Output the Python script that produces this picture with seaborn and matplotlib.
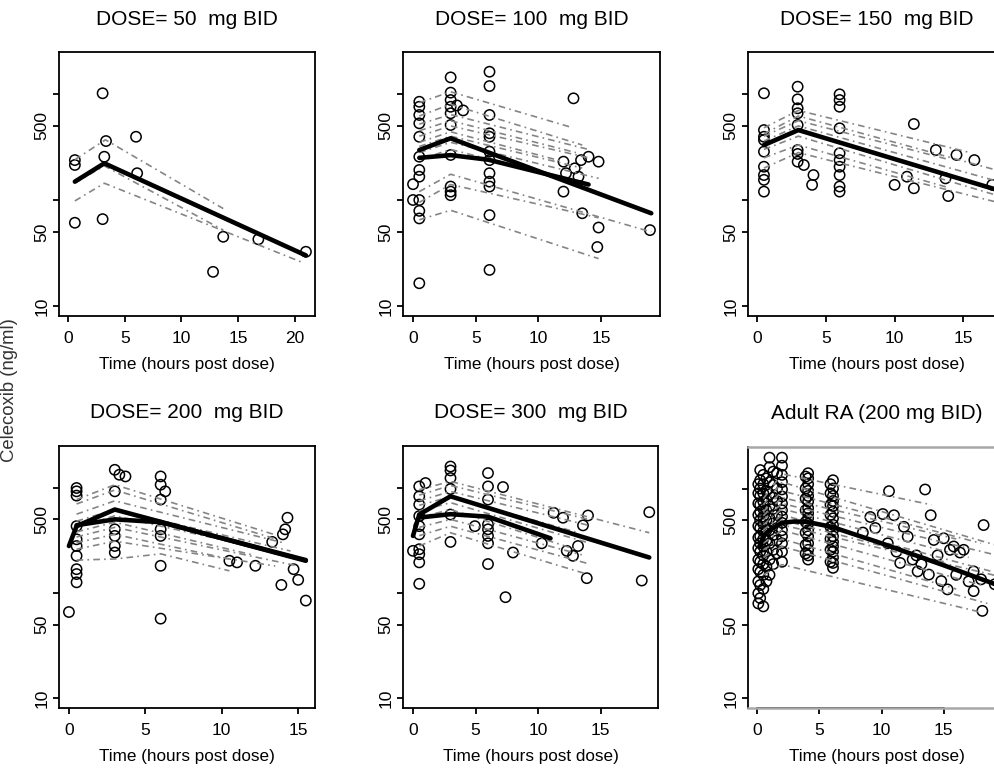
import matplotlib
matplotlib.use("Agg")
import matplotlib.pyplot as plt
import numpy as np
import pandas as pd
import seaborn as sns

sns.set_style("ticks")
plt.rcParams['font.family'] = ['Liberation Sans', 'DejaVu Sans']
plt.rcParams['text.color'] = 'black'
plt.rcParams['axes.labelcolor'] = 'black'
plt.rcParams['xtick.color'] = 'black'
plt.rcParams['ytick.color'] = 'black'

# ---------------- data ----------------
titles = ["DOSE= 50  mg BID", "DOSE= 100  mg BID", "DOSE= 150  mg BID",
          "DOSE= 200  mg BID", "DOSE= 300  mg BID", "Adult RA (200 mg BID)"]
x_ticks = [[0, 5, 10, 15, 20], [0, 5, 10, 15], [0, 5, 10, 15],
           [0, 5, 10, 15], [0, 5, 10, 15], [0, 5, 10, 15]]
y_ticks = [10, 50, 100, 500, 1000]
y_tick_labels = ["10", "50", "", "500", ""]

# Panel 1: 50 mg
p1_obs_t = [0.6, 0.6, 0.6, 3.05, 3.35, 3.2, 3.05, 6.0, 6.1, 13.7, 12.8, 16.8, 21.0]
p1_obs_c = [238, 214, 61, 1016, 360, 256, 66, 395, 179, 45, 21, 42.6, 32.5]
p1_ind_t = [[0.6, 3.3, 13.7], [0.6, 3.2, 20.6], [0.6, 3.2, 13.7]]
p1_ind_c = [[240, 370, 83], [98, 144, 26], [145, 210, 52]]
p1_pop_t = [[0.6, 3.2, 21.0]]
p1_pop_c = [[149, 222, 30]]

# Panel 2: 100 mg
p2_obs_t = [0.5, 0.5, 0.5, 0.5, 0.5, 0.5, 0.5, 0.5, 0.0, 0.0, 0.5, 0.5, 0.5, 0.5,
            3.0, 3.0, 3.0, 3.0, 3.0, 3.0, 3.0, 3.0, 3.0, 3.0, 3.5, 4.0,
            6.1, 6.1, 6.1, 6.1, 6.1, 6.1, 6.1, 6.1, 6.1, 6.1, 6.1, 6.1,
            12.0, 12.2, 12.0, 12.8, 12.9, 13.4, 14.0, 13.5, 14.8, 14.8, 14.7, 18.9, 13.2]
p2_obs_c = [845, 758, 634, 529, 395, 256, 192, 166, 141, 100, 100, 79, 67, 16.4,
            1435, 1030, 877, 758, 658, 510, 266, 134, 120, 111, 780, 700,
            1622, 1189, 634, 426, 395, 286, 238, 179, 149, 134, 72, 21.9,
            230, 179, 120, 910, 199, 238, 256, 75, 230, 55, 36, 52, 166]
p2_ind_t = [[0.5, 3, 12.5], [0.5, 3, 13.5], [0.5, 3, 14], [0.5, 3, 13], [0.5, 3, 14],
            [0.5, 3, 12], [0.5, 3, 13.5], [0.5, 3, 14.8], [0.5, 3, 13], [0.5, 3, 19],
            [0.5, 3, 14.8], [0.5, 3, 14.8]]
p2_ind_c = [[830, 1050, 490], [620, 800, 330], [520, 640, 300], [450, 560, 280], [400, 500, 250],
            [350, 440, 230], [320, 400, 200], [280, 350, 160], [240, 300, 150], [120, 175, 50],
            [95, 140, 68], [65, 80, 28]]
p2_pop_t = [[0.5, 3, 19], [0.5, 3, 6, 14]]
p2_pop_c = [[296, 382, 75], [250, 265, 240, 140]]

# Panel 3: 150 mg
p3_obs_t = [0.5, 0.5, 0.5, 0.5, 0.5, 0.5, 0.5, 0.5, 0.5,
            2.95, 2.95, 2.95, 2.95, 2.95, 2.95, 2.95, 2.95, 3.4, 4.1, 4.0,
            6.0, 6.0, 6.0, 6.0, 6.0, 6.0, 6.0, 6.0, 6.0, 6.0,
            10.0, 10.9, 11.4, 11.4, 13.0, 14.5, 13.7, 13.9, 15.8, 17.1]
p3_obs_c = [1016, 457, 395, 368, 286, 206, 172, 155, 120,
            1172, 891, 733, 658, 510, 296, 272, 230, 214, 172, 139,
            993, 877, 758, 475, 276, 238, 206, 172, 134, 120,
            139, 166, 129, 521, 296, 266, 160, 109, 238, 139]
p3_ind_t = [[0.5, 3, 15.5], [0.5, 3, 17.5], [0.5, 3, 14], [0.5, 3, 17.5],
            [0.5, 3, 13.5], [0.5, 3, 17.5], [0.5, 3, 14], [0.5, 3, 17.5]]
p3_ind_c = [[480, 700, 280], [420, 620, 190], [400, 560, 240], [360, 500, 150],
            [330, 450, 180], [300, 400, 110], [250, 330, 130], [200, 280, 95]]
p3_pop_t = [[0.5, 3, 17.5]]
p3_pop_c = [[330, 457, 124]]

# Panel 4: 200 mg
p4_obs_t = [0.0, 0.5, 0.5, 0.5, 0.5, 0.5, 0.5, 0.5, 0.5, 0.5, 0.5,
            3.0, 3.0, 3.0, 3.0, 3.0, 3.0, 3.3, 3.7,
            6.0, 6.0, 6.3, 6.0, 6.0, 6.0, 6.0, 6.0,
            10.5, 11.0, 12.2, 13.3, 14.0, 14.15, 14.3, 13.9, 14.7, 15.0, 15.5]
p4_obs_c = [65.8, 993, 923, 841, 431, 323, 279, 225, 168, 151, 126,
            1479, 923, 402, 348, 279, 242, 1327, 1279,
            1279, 1067, 923, 771, 402, 348, 181, 56.9,
            202, 195, 181, 305, 360, 402, 518, 119, 168, 133, 84.5]
p4_ind_t = [[0.5, 3, 13.4], [0.5, 3, 13.4], [0.5, 3, 14], [0.5, 3, 14.5], [0.5, 3, 15],
            [0.5, 3, 12], [0.5, 3, 15], [0.5, 3, 10.5], [0.5, 3, 13.5], [0.5, 3, 6, 10.5]]
p4_ind_c = [[770, 1067, 360], [700, 950, 330], [560, 750, 300], [480, 620, 250], [420, 540, 220],
            [380, 470, 230], [340, 420, 180], [300, 360, 210], [260, 310, 180], [205, 210, 235, 162]]
p4_pop_t = [[0.0, 0.5, 3, 15.5], [0.5, 3, 6, 15.5]]
p4_pop_c = [[279, 431, 620, 202], [440, 500, 470, 205]]

# Panel 5: 300 mg
p5_obs_t = [0.0, 0.5, 0.5, 0.5, 0.5, 0.5, 0.5, 0.5, 0.5, 0.5, 0.5, 1.0,
            3.0, 3.0, 3.0, 3.0, 3.0, 3.0,
            6.0, 6.0, 6.0, 6.0, 6.0, 6.0, 6.0, 6.0,
            4.95, 7.2, 7.4, 8.0, 10.3, 11.25, 12.0, 12.3, 12.8, 13.2, 13.6, 14.0, 13.9, 18.3, 18.9]
p5_obs_c = [251, 1028, 828, 691, 537, 431, 360, 260, 233, 195, 122, 1107,
            1589, 1458, 1234, 971, 556, 305,
            1377, 1028, 771, 447, 402, 348, 296, 188,
            431, 1014, 91, 242, 296, 577, 518, 251, 225, 279, 438, 544, 138, 131, 585]
p5_ind_t = [[0.5, 3, 18.9], [0.5, 3, 14], [0.5, 3, 14], [0.5, 3, 13], [0.5, 3, 14],
            [0.5, 3, 13], [0.5, 3, 13.5], [0.5, 3, 14], [0.5, 3, 13.9]]
p5_ind_c = [[957, 1148, 373], [850, 1050, 500], [750, 920, 440], [680, 820, 380], [600, 720, 300],
            [520, 620, 260], [420, 500, 230], [350, 430, 190], [279, 373, 151]]
p5_pop_t = [[0.0, 0.5, 3, 18.9], [0.5, 3, 6, 11]]
p5_pop_c = [[348, 556, 828, 217], [520, 560, 530, 330]]

# Panel 6: adult RA
p6_obs_t = ([0.1] * 12 + [0.25] * 15 + [0.5] * 15 + [0.75] * 10 + [1.0] * 10 + [1.3] * 8
            + [1.6] * 7 + [2.0] * 15 + [3.9] * 8 + [4.1] * 16 + [5.9] * 8 + [6.1] * 16
            + [10.6, 13.5, 13.95, 10.1, 11.0, 9.1, 11.8, 12.1, 14.2, 15.0, 15.5, 16.3, 11.5,
               12.9, 13.8, 14.8, 15.3, 17.4, 17.4, 18.0, 18.1, 18.2, 19.1, 8.5, 9.5, 10.5,
               11.2, 12.5, 13.2, 14.5, 16.0, 17.0, 15.8, 16.6, 12.8])
p6_obs_c = ([1100, 900, 720, 560, 440, 340, 270, 210, 170, 130, 100, 80]
            + [1500, 1200, 1000, 850, 700, 600, 500, 420, 350, 300, 250, 200, 160, 120, 90]
            + [1350, 1100, 900, 750, 640, 540, 460, 390, 330, 280, 230, 190, 150, 110, 75]
            + [1250, 950, 780, 620, 500, 400, 320, 250, 180, 130]
            + [1970, 1600, 1150, 880, 680, 520, 400, 300, 210, 150]
            + [1450, 1080, 820, 640, 470, 360, 260, 190]
            + [1400, 1000, 760, 560, 420, 320, 240]
            + [1970, 1650, 1350, 1150, 980, 840, 720, 620, 540, 470, 400, 350, 300, 250, 200]
            + [1300, 1000, 800, 620, 480, 380, 290, 240]
            + [1400, 1250, 1100, 950, 850, 750, 650, 580, 520, 460, 400, 350, 300, 260, 230, 210]
            + [1100, 900, 700, 560, 430, 330, 260, 200]
            + [1200, 1000, 850, 760, 680, 600, 520, 450, 400, 350, 310, 280, 250, 220, 195, 175]
            + [944, 979, 556, 571, 556, 535, 431, 348, 323, 335, 260, 245, 195,
               162, 151, 131, 109, 162, 105, 136, 68, 448, 122, 380, 420, 300,
               250, 210, 190, 230, 150, 130, 280, 260, 230])
p6_ind_t = [[0.5, 2, 14], [0.5, 2, 20], [0.5, 2, 18], [0.5, 2, 16], [0.5, 2, 20],
            [0.5, 2, 17], [0.5, 2, 19], [0.5, 2, 15], [0.5, 2, 20], [0.5, 2, 18],
            [0.5, 2, 16], [0.5, 2, 18.5], [0.5, 2, 18]]
p6_ind_c = [[800, 1380, 700], [700, 1150, 270], [600, 950, 300], [550, 820, 330], [500, 720, 220],
            [450, 640, 220], [400, 560, 160], [380, 500, 200], [350, 450, 140], [300, 400, 120],
            [260, 330, 110], [220, 280, 80], [150, 188, 66]]
p6_pop_t = [[0.2, 0.5, 1, 2, 3, 4, 6, 10, 15, 20]]
p6_pop_c = [[279, 350, 402, 470, 485, 480, 431, 300, 185, 112]]

panels = [
    (p1_obs_t, p1_obs_c, p1_ind_t, p1_ind_c, p1_pop_t, p1_pop_c),
    (p2_obs_t, p2_obs_c, p2_ind_t, p2_ind_c, p2_pop_t, p2_pop_c),
    (p3_obs_t, p3_obs_c, p3_ind_t, p3_ind_c, p3_pop_t, p3_pop_c),
    (p4_obs_t, p4_obs_c, p4_ind_t, p4_ind_c, p4_pop_t, p4_pop_c),
    (p5_obs_t, p5_obs_c, p5_ind_t, p5_ind_c, p5_pop_t, p5_pop_c),
    (p6_obs_t, p6_obs_c, p6_ind_t, p6_ind_c, p6_pop_t, p6_pop_c),
]

# ---------------- layout ----------------
W, H = 994, 779
fig = plt.figure(figsize=(W / 100, H / 100), dpi=100)
boxes = [(59, 52, 315, 316), (403, 52, 660, 316), (748, 52, 1006, 316),
         (59, 446, 315, 708), (403, 446, 658, 708), (748, 447, 1006, 708)]
xlims = [(-0.8, 21.8), (-0.8, 19.7), (-0.66, 18.1), (-0.65, 16.1), (-0.8, 19.6), (-0.73, 20.0)]


def to_long(ts, cs):
    rows = []
    for i, (t, c) in enumerate(zip(ts, cs)):
        for tt, cc in zip(t, c):
            rows.append((i, tt, cc))
    return pd.DataFrame(rows, columns=["id", "time", "conc"])


for k, (obs_t, obs_c, ind_t, ind_c, pop_t, pop_c) in enumerate(panels):
    l, t, r, b = boxes[k]
    ax = fig.add_axes([l / W, 1 - b / H, (r - l) / W, (b - t) / H])
    ind = to_long(ind_t, ind_c)
    pop = to_long(pop_t, pop_c)
    obs = pd.DataFrame({"time": obs_t, "conc": obs_c})
    sns.lineplot(data=ind, x="time", y="conc", units="id", estimator=None, ax=ax,
                 color="#858585", lw=1.2, linestyle=(0, (4, 2.5, 1, 2.5)), legend=False)
    sns.lineplot(data=pop, x="time", y="conc", units="id", estimator=None, ax=ax,
                 color="black", lw=3.3, legend=False, solid_joinstyle="round")
    sns.scatterplot(data=obs, x="time", y="conc", ax=ax, marker="o", s=55,
                    facecolors="none", edgecolor="black", linewidth=1.1, legend=False)
    ax.set_yscale("log")
    ax.set_ylim(8.05, 2490)
    ax.set_xlim(*xlims[k])
    ax.set_yticks(y_ticks)
    ax.set_yticklabels(y_tick_labels, rotation=90, va="center", fontsize=12.5)
    ax.yaxis.set_minor_locator(matplotlib.ticker.NullLocator())
    ax.set_xticks(x_ticks[k])
    ax.set_xticklabels([str(v) for v in x_ticks[k]], fontsize=12.5)
    ax.tick_params(direction="out", length=4, width=1.3, color="black", labelcolor="black")
    ax.tick_params(axis="x", pad=7)
    ax.tick_params(axis="y", pad=3)
    ax.set_xlabel("Time (hours post dose)", fontsize=12.3, labelpad=8, color="black")
    ax.set_ylabel("")
    ax.set_title(titles[k], fontsize=15, pad=19.5 if k < 3 else 20, color="black")
    for sp in ax.spines.values():
        sp.set_linewidth(1.3)
        sp.set_color("black")
    if k == 5:
        for name in ["top", "right", "bottom"]:
            ax.spines[name].set_color("#a8a8a8")
            ax.spines[name].set_linewidth(1.8)
        ax.plot([x_ticks[k][0], x_ticks[k][-1]], [0, 0], color="black", lw=1.3,
                transform=ax.get_xaxis_transform(), clip_on=False)

fig.text(10 / W, 1 - 390 / H, "Celecoxib (ng/ml)", rotation=90, va="center", ha="center",
         fontsize=13.3, color="#333333")

fig.savefig("out.png", dpi=100)
